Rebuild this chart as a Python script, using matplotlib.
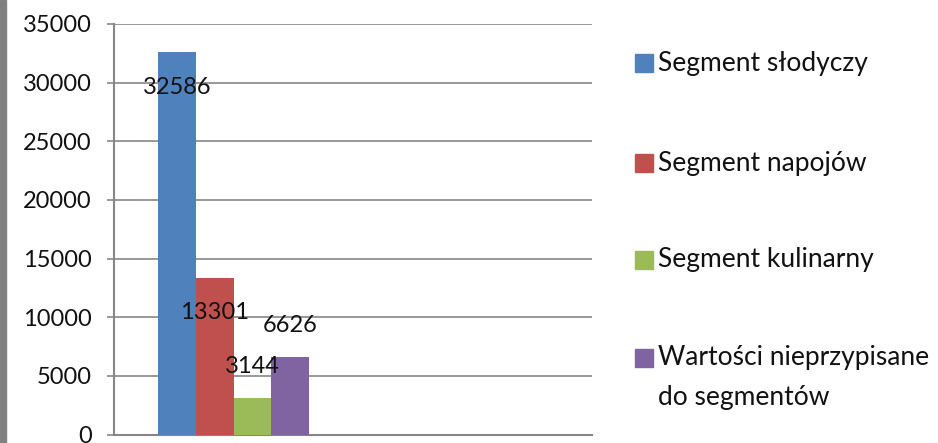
import numpy as np
import matplotlib.pyplot as plt
from matplotlib.patches import Rectangle

# data
series = ['Segment słodyczy', 'Segment napojów', 'Segment kulinarny',
          'Wartości nieprzypisane\ndo segmentów']
values = [32586, 13301, 3144, 6626]
colors = ['#4F81BD', '#C0504D', '#9BBB59', '#8064A2']
label_offsets = [-35, -34, 31, 31]  # px from bar top

plt.rcParams['font.family'] = ['Lato', 'DejaVu Sans']

W, H = 938, 443
fig = plt.figure(figsize=(W / 100, H / 100), dpi=100)
ax = fig.add_axes([114 / W, 8.5 / H, 478 / W, 410.5 / H])

# gray strip on the left edge
fig.patches.append(Rectangle((0, 0), 6 / W, 1, transform=fig.transFigure,
                             color='#808080', zorder=0))

w = 0.158
x0 = 0
for i, (name, v, c) in enumerate(zip(series, values, colors)):
    xp = x0 + (i - 1.5) * w
    ax.bar(xp, v, width=w, color=c, label=name, zorder=3)
    ax.annotate(str(v), (xp, v), xytext=(0, label_offsets[i] * 0.72),
                textcoords='offset points', ha='center', va='center',
                fontsize=17, color='#111111', zorder=4)

ax.set_xlim(-0.5, 1.5)
ax.set_ylim(0, 35000)
ax.set_yticks(np.arange(0, 35001, 5000))
ax.set_xticks([])
ax.yaxis.grid(True, color='#868686', linewidth=1.2, zorder=0)
ax.tick_params(axis='y', length=5, width=1.2, color='#868686',
               labelsize=17, labelcolor='#111111', pad=11)
for s in ['top', 'right']:
    ax.spines[s].set_visible(False)
for s in ['left', 'bottom']:
    ax.spines[s].set_color('#868686')
    ax.spines[s].set_linewidth(1.5)

# legend, drawn by hand to match the spacing
legend_y = [63, 163, 260, 358]
for name, c, yp in zip(series, colors, legend_y):
    fig.patches.append(Rectangle((635 / W, 1 - (yp + 9) / H), 18 / W, 18 / H,
                                 transform=fig.transFigure, color=c))
    for k, line in enumerate(name.split('\n')):
        fig.text(658 / W, 1 - (yp + 40 * k) / H, line, ha='left', va='center',
                 fontsize=19, color='#111111')

fig.savefig('out.png', dpi=100)
